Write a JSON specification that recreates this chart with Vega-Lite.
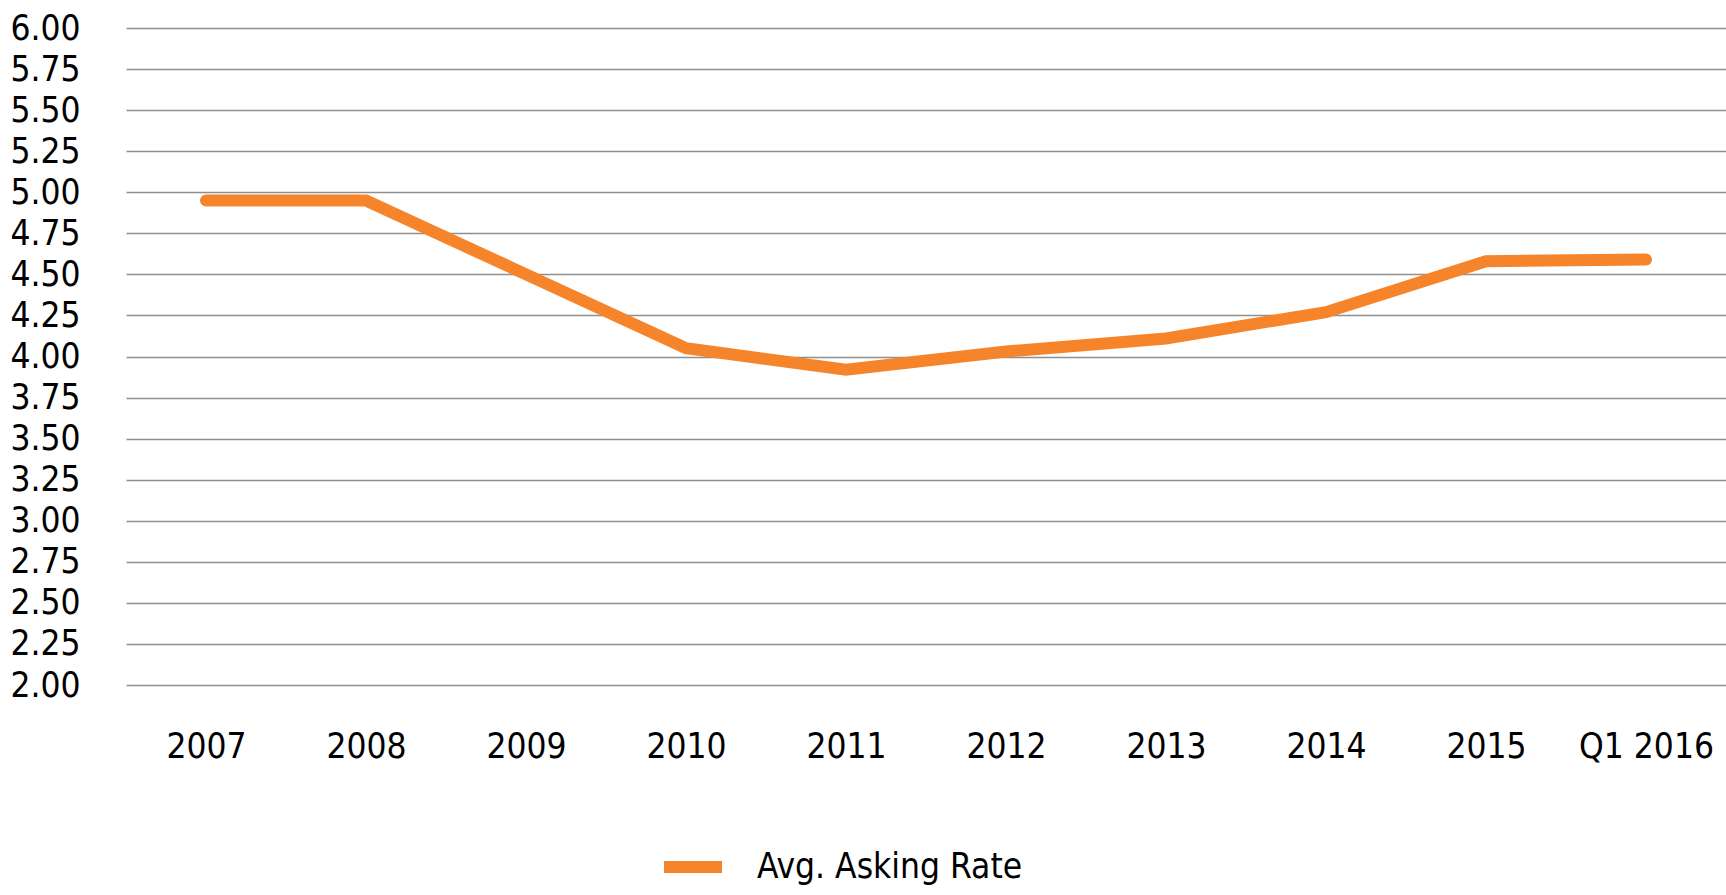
{
  "$schema": "https://vega.github.io/schema/vega-lite/v6.json",
  "width": 1600,
  "height": 657,
  "autosize": {"type": "none"},
  "padding": {"left": 126, "top": 28, "right": 0, "bottom": 210},
  "background": "white",
  "config": {
    "view": {"stroke": null},
    "font": "DejaVu Sans Condensed, sans-serif"
  },
  "data": {
    "values": [
      {"period": "2007", "rate": 4.95, "series": "Avg. Asking Rate"},
      {"period": "2008", "rate": 4.95, "series": "Avg. Asking Rate"},
      {"period": "2009", "rate": 4.50, "series": "Avg. Asking Rate"},
      {"period": "2010", "rate": 4.05, "series": "Avg. Asking Rate"},
      {"period": "2011", "rate": 3.92, "series": "Avg. Asking Rate"},
      {"period": "2012", "rate": 4.03, "series": "Avg. Asking Rate"},
      {"period": "2013", "rate": 4.11, "series": "Avg. Asking Rate"},
      {"period": "2014", "rate": 4.27, "series": "Avg. Asking Rate"},
      {"period": "2015", "rate": 4.58, "series": "Avg. Asking Rate"},
      {"period": "Q1 2016", "rate": 4.59, "series": "Avg. Asking Rate"}
    ]
  },
  "mark": {"type": "line", "strokeWidth": 12, "strokeCap": "round", "strokeJoin": "miter"},
  "encoding": {
    "x": {
      "field": "period",
      "type": "ordinal",
      "sort": null,
      "scale": {"type": "point", "padding": 0.5},
      "axis": {
        "title": null,
        "domain": false,
        "ticks": false,
        "grid": false,
        "labelAngle": 0,
        "labelFontSize": 35,
        "labelColor": "#000000",
        "labelBaseline": "middle",
        "labelPadding": 61,
        "labelOverlap": false
      }
    },
    "y": {
      "field": "rate",
      "type": "quantitative",
      "scale": {"domain": [2, 6], "nice": false, "zero": false},
      "axis": {
        "title": null,
        "domain": false,
        "ticks": false,
        "values": [2, 2.25, 2.5, 2.75, 3, 3.25, 3.5, 3.75, 4, 4.25, 4.5, 4.75, 5, 5.25, 5.5, 5.75, 6],
        "format": ".2f",
        "labelFontSize": 35,
        "labelColor": "#000000",
        "labelPadding": 46,
        "labelOverlap": false,
        "labelFlush": false,
        "gridColor": "#8f8f8f",
        "gridWidth": 1.5,
        "gridOpacity": 1
      }
    },
    "color": {
      "field": "series",
      "type": "nominal",
      "scale": {"range": ["#F5842A"]},
      "legend": {
        "title": null,
        "orient": "none",
        "legendX": 532,
        "legendY": 804,
        "padding": 0,
        "symbolType": "stroke",
        "symbolSize": 3364,
        "symbolStrokeWidth": 12,
        "labelFontSize": 35,
        "labelLimit": 800,
        "labelColor": "#000000",
        "labelOffset": 29
      }
    }
  }
}
